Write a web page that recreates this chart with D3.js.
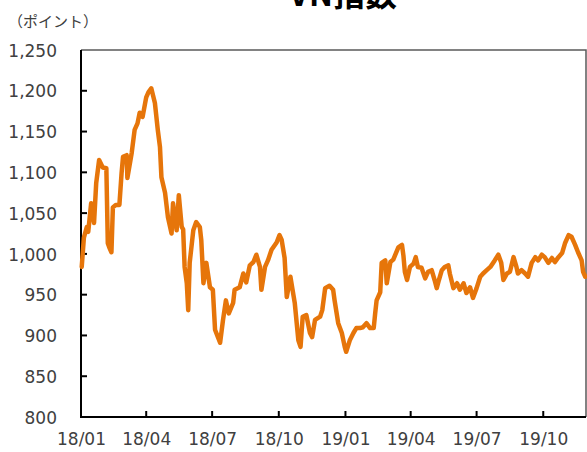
<!DOCTYPE html>
<html>
<head>
<meta charset="utf-8">
<script src="https://cdn.jsdelivr.net/npm/d3@7"></script>
<style>
  html, body { margin: 0; padding: 0; background: #fff; }
  svg { display: block; }
</style>
</head>
<body>
<svg id="chart" width="587" height="452"></svg>
<script>
// VN指数 (daily close sampled), 2018-01 .. 2019-11
const dates = [
  "2018-01-02","2018-01-03","2018-01-05","2018-01-09","2018-01-11","2018-01-15","2018-01-18","2018-01-19",
  "2018-01-22","2018-01-26","2018-01-31","2018-02-05","2018-02-07","2018-02-09","2018-02-12","2018-02-14",
  "2018-02-18","2018-02-23","2018-02-26","2018-02-28","2018-03-05","2018-03-06","2018-03-12","2018-03-16",
  "2018-03-20","2018-03-23","2018-03-27","2018-04-01","2018-04-04","2018-04-08","2018-04-13","2018-04-17",
  "2018-04-20","2018-04-22","2018-04-27","2018-05-01","2018-05-06","2018-05-08","2018-05-13","2018-05-16",
  "2018-05-20","2018-05-22","2018-05-24","2018-05-27","2018-05-29","2018-05-31","2018-06-05","2018-06-09",
  "2018-06-14","2018-06-16","2018-06-19","2018-06-23","2018-06-28","2018-07-02","2018-07-05","2018-07-09",
  "2018-07-12","2018-07-16","2018-07-20","2018-07-24","2018-07-30","2018-08-01","2018-08-08","2018-08-13",
  "2018-08-17","2018-08-22","2018-08-27","2018-08-31","2018-09-05","2018-09-07","2018-09-12","2018-09-16",
  "2018-09-21","2018-09-28","2018-10-02","2018-10-05","2018-10-09","2018-10-12","2018-10-17","2018-10-20",
  "2018-10-23","2018-10-28","2018-10-31","2018-11-03","2018-11-08","2018-11-13","2018-11-16","2018-11-20",
  "2018-11-27","2018-11-30","2018-12-04","2018-12-10","2018-12-15","2018-12-17","2018-12-22","2018-12-27",
  "2018-12-31","2019-01-02","2019-01-07","2019-01-12","2019-01-16","2019-01-21","2019-01-25","2019-01-30",
  "2019-02-04","2019-02-09","2019-02-11","2019-02-13","2019-02-18","2019-02-20","2019-02-25","2019-02-27",
  "2019-03-04","2019-03-08","2019-03-15","2019-03-20","2019-03-22","2019-03-24","2019-03-27","2019-03-31",
  "2019-04-05","2019-04-08","2019-04-11","2019-04-16","2019-04-21","2019-04-25","2019-04-30","2019-05-04",
  "2019-05-07","2019-05-10","2019-05-14","2019-05-18","2019-05-23","2019-05-25","2019-05-30","2019-06-04",
  "2019-06-08","2019-06-13","2019-06-17","2019-06-22","2019-06-26","2019-07-01","2019-07-06","2019-07-10",
  "2019-07-15","2019-07-20","2019-07-26","2019-07-31","2019-08-04","2019-08-07","2019-08-12","2019-08-16",
  "2019-08-21","2019-08-25","2019-08-27","2019-09-01","2019-09-06","2019-09-10","2019-09-15","2019-09-20",
  "2019-09-24","2019-09-29","2019-10-03","2019-10-08","2019-10-13","2019-10-17","2019-10-22","2019-10-27",
  "2019-10-31","2019-11-05","2019-11-09","2019-11-14","2019-11-18","2019-11-23","2019-11-25","2019-11-28"
];
const values = [
  984, 996, 1020, 1033, 1027, 1062, 1045, 1038,
  1087, 1115, 1106, 1105, 1013, 1008, 1002, 1057,
  1060, 1060, 1099, 1119, 1121, 1093, 1124, 1152,
  1160, 1173, 1168, 1192, 1198, 1203, 1185, 1152,
  1131, 1094, 1075, 1045, 1025, 1062, 1029, 1072,
  1033, 1030, 984, 964, 931, 989, 1029, 1039,
  1033, 1017, 964, 989, 959, 956, 907, 898,
  891, 919, 943, 927, 940, 956, 959, 976,
  965, 986, 990, 999, 984, 956, 984, 992,
  1005, 1014, 1023, 1017, 995, 947, 972, 956,
  940, 894, 886, 923, 925, 903, 898, 919,
  923, 931, 958, 961, 956, 943, 915, 903,
  886, 880, 894, 903, 909, 909, 910, 915,
  909, 909, 927, 943, 953, 989, 992, 964,
  990, 993, 1008, 1011, 998, 978, 968, 984,
  988, 996, 984, 983, 970, 978, 980, 968,
  958, 968, 980, 984, 986, 976, 958, 964,
  956, 964, 952, 959, 946, 958, 972, 976,
  980, 984, 992, 999, 989, 968, 976, 978,
  996, 984, 976, 980, 976, 972, 989, 996,
  992, 999, 996, 989, 995, 990, 996, 1001,
  1013, 1023, 1021, 1011, 1002, 992, 978, 972
];
const yTicks = [800, 850, 900, 950, 1000, 1050, 1100, 1150, 1200, 1250];
const xTickDates = ["2018-01-01","2018-04-01","2018-07-01","2018-10-01","2019-01-01","2019-04-01","2019-07-01","2019-10-01"];
const titleText = "VN指数";
const unitText = "（ポイント）";

const parse = d3.timeParse("%Y-%m-%d");
const data = dates.map((d, i) => ({ date: parse(d), value: values[i] }));

const plotLeft = 81, plotRight = 586, plotTop = 50, plotBottom = 417;
const svg = d3.select("#chart");

const x = d3.scaleTime()
  .domain([parse("2018-01-01"), parse("2019-11-29")])
  .range([plotLeft, plotRight]);
const y = d3.scaleLinear().domain([800, 1250]).range([plotBottom, plotTop]);

const labelFont = "'DejaVu Sans', Verdana, sans-serif";
const textColor = "#404040";

// title (sits mostly above the top edge)
svg.append("text")
  .attr("x", 343).attr("y", 6)
  .attr("text-anchor", "middle")
  .attr("font-family", "'Noto Sans CJK JP', sans-serif")
  .attr("font-weight", 700)
  .attr("font-size", 32)
  .attr("fill", "#000")
  .text(titleText);

// unit label
svg.append("text")
  .attr("x", 8).attr("y", 27)
  .attr("font-family", "'Noto Sans CJK JP', sans-serif")
  .attr("font-size", 15)
  .attr("fill", textColor)
  .text(unitText);

// plot frame (top and right)
svg.append("path")
  .attr("d", `M${plotLeft},${plotTop}H${plotRight}V${plotBottom}`)
  .attr("fill", "none")
  .attr("stroke", "#595959")
  .attr("stroke-width", 1.5);

// y axis
const yAxis = d3.axisLeft(y)
  .tickValues(yTicks)
  .tickSize(0)
  .tickPadding(24)
  .tickFormat(d3.format(","));
const gy = svg.append("g").attr("transform", `translate(${plotLeft},0)`).call(yAxis);
gy.select(".domain").remove();
gy.selectAll("text")
  .attr("font-family", labelFont).attr("font-size", 17)
  .attr("fill", textColor).attr("dy", "0.36em");

// inward y ticks
svg.append("g").selectAll("line")
  .data(yTicks.slice(1, -1))
  .join("line")
  .attr("x1", plotLeft).attr("x2", plotLeft + 6)
  .attr("y1", d => y(d)).attr("y2", d => y(d))
  .attr("stroke", "#000").attr("stroke-width", 2);

// x axis
const xAxis = d3.axisBottom(x)
  .tickValues(xTickDates.map(parse))
  .tickSize(0)
  .tickPadding(16)
  .tickFormat(d3.timeFormat("%y/%m"));
const gx = svg.append("g").attr("transform", `translate(0,${plotBottom})`).call(xAxis);
gx.select(".domain").remove();
gx.selectAll("text")
  .attr("font-family", labelFont).attr("font-size", 17)
  .attr("fill", textColor).attr("dy", "0.71em");

// inward x ticks
svg.append("g").selectAll("line")
  .data(xTickDates.slice(1).map(parse))
  .join("line")
  .attr("x1", d => x(d)).attr("x2", d => x(d))
  .attr("y1", plotBottom).attr("y2", plotBottom - 6)
  .attr("stroke", "#000").attr("stroke-width", 2);

// axis lines
svg.append("path")
  .attr("d", `M${plotLeft},${plotTop}V${plotBottom}H${plotRight}`)
  .attr("fill", "none")
  .attr("stroke", "#000")
  .attr("stroke-width", 2);

// index line
const line = d3.line()
  .x(d => x(d.date))
  .y(d => y(d.value));
svg.append("path")
  .datum(data)
  .attr("d", line)
  .attr("fill", "none")
  .attr("stroke", "#E6750A")
  .attr("stroke-width", 4.5)
  .attr("stroke-linejoin", "round")
  .attr("stroke-linecap", "round");
</script>
</body>
</html>
